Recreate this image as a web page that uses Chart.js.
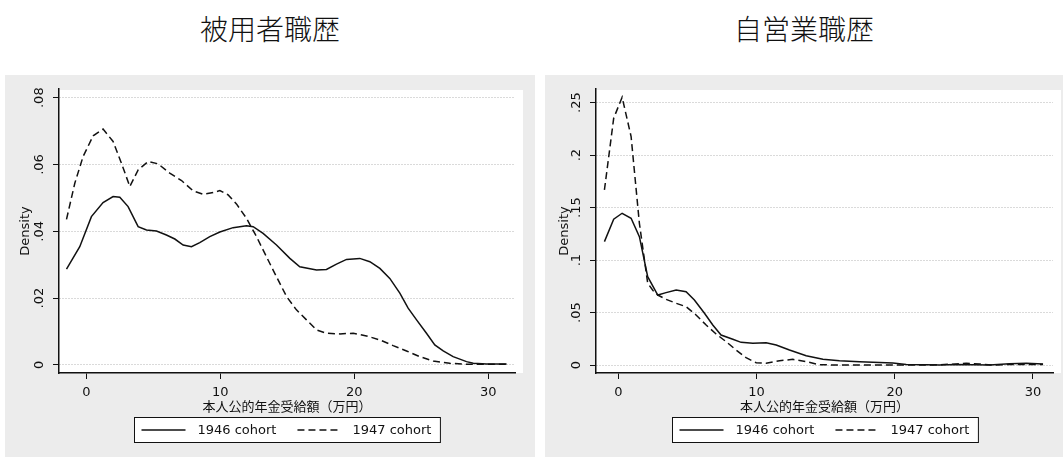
<!DOCTYPE html>
<html>
<head>
<meta charset="utf-8">
<script src="https://cdn.jsdelivr.net/npm/chart.js@4.4.1/dist/chart.umd.min.js"></script>
<style>
  body { margin: 0; width: 1063px; height: 457px; background: #fff; position: relative; overflow: hidden; }
  .title { position: absolute; top: 14px; line-height: 1; font-family: "Noto Sans CJK JP", sans-serif; font-size: 28px; font-weight: 300; text-align: center; color: #111; }
  .panel { position: absolute; top: 75px; height: 382px; }
</style>
</head>
<body>
<div class="title" style="left:5px;width:530px">被用者職歴</div>
<div class="title" style="left:545px;width:518px">自営業職歴</div>
<div class="panel" style="left:5px;width:530px"><canvas id="leftChart" width="530" height="382"></canvas></div>
<div class="panel" style="left:545px;width:518px"><canvas id="rightChart" width="518" height="382"></canvas></div>
<script>
// series labels and axis text
const seriesLabels = ['1946 cohort', '1947 cohort'];
const xTitle = '本人公的年金受給額（万円）';
const yTitle = 'Density';
const xTicks = [0, 10, 20, 30];

// 被用者職歴 (left panel)
const leftX46 = [-1.49, -0.50, 0.37, 1.24, 1.99, 2.49, 3.11, 3.86, 4.48, 5.23, 5.97, 6.60, 7.22, 7.84, 8.46, 9.21, 9.96, 10.95, 11.95, 12.45, 13.19, 14.19, 15.19, 15.93, 17.18, 17.92, 18.67, 19.42, 20.41, 21.16, 21.91, 22.65, 23.40, 24.02, 24.65, 25.39, 26.01, 26.64, 27.38, 28.38, 28.88, 29.87, 31.37];
const left46 = [.0287, .0354, .0444, .0486, .0504, .0502, .0474, .0414, .0404, .0401, .0389, .0377, .0359, .0354, .0366, .0384, .0398, .0411, .0417, .0414, .0394, .0359, .0319, .0294, .0284, .0286, .0302, .0316, .0319, .0309, .0289, .0259, .0215, .0170, .0135, .0095, .0060, .0042, .0025, .0010, .0005, .0003, .0003];
const leftX47 = [-1.49, -0.87, -0.25, 0.50, 1.24, 1.99, 2.61, 3.24, 3.86, 4.61, 5.35, 6.22, 7.10, 7.97, 8.71, 9.46, 9.96, 10.58, 11.20, 11.95, 12.70, 13.44, 14.19, 14.94, 15.68, 16.43, 17.18, 17.92, 18.92, 19.92, 20.91, 21.91, 22.90, 23.90, 24.89, 25.89, 27.13, 28.38, 31.37];
const left47 = [.0436, .0544, .0624, .0686, .0706, .0669, .0604, .0534, .0584, .0609, .0602, .0574, .0552, .0521, .0511, .0516, .0522, .0509, .0482, .0439, .0384, .0324, .0264, .0205, .0165, .0135, .0105, .0095, .0093, .0095, .0087, .0075, .0058, .0042, .0025, .0012, .0005, .0002, .0002];
const leftYTicks = [0, .02, .04, .06, .08];
const leftYLabels = ['0', '.02', '.04', '.06', '.08'];

// 自営業職歴 (right panel)
const rightX46 = [-1.01, -0.34, 0.27, 0.92, 1.52, 2.12, 2.85, 3.45, 4.18, 4.90, 5.50, 6.23, 6.83, 7.43, 8.28, 8.88, 9.73, 10.69, 11.42, 12.38, 13.59, 14.80, 16.00, 17.45, 18.90, 19.86, 20.83, 22.28, 23.24, 24.45, 25.66, 26.86, 28.31, 29.52, 30.73];
const right46 = [.1176, .1389, .1446, .1398, .1223, .0842, .0667, .0690, .0715, .0699, .0620, .0493, .0381, .0286, .0245, .0216, .0207, .0213, .0191, .0143, .0089, .0054, .0041, .0032, .0025, .0019, .0006, .0003, 0, .0006, .0003, 0, .0013, .0016, .0010];
const rightX47 = [-1.01, -0.34, 0.27, 0.92, 1.52, 2.12, 2.50, 2.85, 3.45, 4.18, 4.90, 5.62, 6.35, 7.07, 7.80, 8.52, 9.24, 9.97, 10.69, 11.66, 12.62, 13.59, 14.55, 16.0, 17.93, 20.35, 22.76, 24.45, 25.17, 26.14, 27.11, 28.55, 30.73];
const right47 = [.1668, .2351, .2552, .2177, .1350, .0780, .0710, .0667, .0626, .0588, .0556, .0477, .0381, .0296, .0222, .0143, .0070, .0022, .0016, .0041, .0054, .0032, .0003, 0, 0, 0, 0, .0010, .0016, .0010, 0, .0006, .0006];
const rightYTicks = [0, .05, .1, .15, .2, .25];
const rightYLabels = ['0', '.05', '.1', '.15', '.2', '.25'];

Chart.defaults.font.family = '"DejaVu Sans", "Noto Sans CJK JP", sans-serif';
Chart.defaults.font.size = 13;
Chart.defaults.color = '#111';

const panelPlugin = {
    id: 'panel',
    beforeDraw(chart) {
        const { ctx, chartArea: a } = chart;
        ctx.save();
        ctx.fillStyle = '#ececec';
        ctx.fillRect(0, 0, chart.width, chart.height);
        ctx.fillStyle = '#fff';
        ctx.fillRect(a.left, a.top + 1, a.right - a.left + 8, a.bottom - a.top - 1);
        ctx.restore();
    },
    afterDraw(chart, args, opts) {
        const { ctx, chartArea: a } = chart;
        const yScale = chart.scales.y;
        ctx.save();
        ctx.fillStyle = '#111';
        ctx.font = '13px "DejaVu Sans"';
        ctx.textAlign = 'center';
        ctx.textBaseline = 'middle';
        // y tick labels, rotated like Stata
        yScale.ticks.forEach((t, i) => {
            ctx.save();
            ctx.translate(a.left - 19, yScale.getPixelForValue(t.value));
            ctx.rotate(-Math.PI / 2);
            ctx.fillText(opts.labels[i], 0, 0);
            ctx.restore();
        });

        // legend with a frame
        const ds = chart.data.datasets;
        const w1 = ctx.measureText(ds[0].label).width;
        const w2 = ctx.measureText(ds[1].label).width;
        const boxW = 7 + 44 + 12 + w1 + 21 + 45 + 11 + w2 + 8;
        const boxH = 25;
        const left = Math.round((a.left + a.right) / 2 - boxW / 2) + 0.5;
        const top = a.bottom + 44.5;
        ctx.fillStyle = '#fff';
        ctx.fillRect(left, top, boxW, boxH);
        ctx.strokeStyle = '#111';
        ctx.lineWidth = 1;
        ctx.strokeRect(left, top, boxW, boxH);
        const midY = top + boxH / 2;
        let x = left + 7;
        ds.forEach((d, i) => {
            ctx.beginPath();
            ctx.setLineDash(d.borderDash || []);
            ctx.lineWidth = d.borderWidth;
            ctx.moveTo(x, midY);
            ctx.lineTo(x + 44, midY);
            ctx.stroke();
            ctx.setLineDash([]);
            x += 44 + (i === 0 ? 12 : 11);
            ctx.fillStyle = '#111';
            ctx.textAlign = 'left';
            ctx.fillText(d.label, x, midY + 1);
            x += (i === 0 ? w1 : w2) + 21;
        });
        ctx.restore();
    }
};

function makeChart(id, cfg) {
    const toPoints = (xs, ys) => xs.map((v, i) => ({ x: v, y: ys[i] }));
    return new Chart(document.getElementById(id).getContext('2d'), {
        type: 'line',
        data: {
            datasets: [{
                label: seriesLabels[0],
                data: toPoints(cfg.x46, cfg.y46),
                borderColor: '#111',
                borderWidth: 1.5,
                pointRadius: 0,
                tension: 0
            }, {
                label: seriesLabels[1],
                data: toPoints(cfg.x47, cfg.y47),
                borderColor: '#111',
                borderWidth: 1.5,
                borderDash: [7, 4],
                pointRadius: 0,
                tension: 0
            }]
        },
        options: {
            responsive: false,
            animation: false,
            layout: { padding: { left: 0, right: cfg.padRight, top: 14, bottom: 42 } },
            plugins: {
                legend: { display: false },
                tooltip: { enabled: false },
                panel: { labels: cfg.yLabels }
            },
            scales: {
                x: {
                    type: 'linear',
                    min: cfg.xMin,
                    max: cfg.xMax,
                    afterBuildTicks: s => { s.ticks = xTicks.map(v => ({ value: v })); },
                    afterFit: s => { s.height = 42; },
                    grid: { drawOnChartArea: false, tickLength: 6, tickColor: '#111', tickWidth: 1 },
                    border: { color: '#111', width: 1.5 },
                    ticks: { padding: 6, font: { size: 13 } },
                    title: { display: true, text: xTitle, padding: 0, font: { size: 13, lineHeight: 1.2 } }
                },
                y: {
                    type: 'linear',
                    min: cfg.yMin,
                    max: cfg.yMax,
                    afterBuildTicks: s => { s.ticks = cfg.yTicks.map(v => ({ value: v })); },
                    afterFit: s => { s.width = cfg.yWidth; },
                    grid: { color: '#b5b5b5', lineWidth: 1, tickLength: 6, tickColor: '#111', tickWidth: 1, tickBorderDash: [] },
                    border: { color: '#111', width: 1.5, dash: [1, 2] },
                    ticks: { display: false },
                    title: { display: true, text: yTitle, padding: { top: cfg.titlePad, bottom: 0 }, font: { size: 13, lineHeight: 1.2 } }
                }
            }
        },
        plugins: [panelPlugin]
    });
}

makeChart('leftChart', {
    x46: leftX46, y46: left46, x47: leftX47, y47: left47,
    xMin: -2.05, xMax: 32.0, yMin: -0.0024, yMax: 0.0826,
    yTicks: leftYTicks, yLabels: leftYLabels,
    padRight: 20, yWidth: 54, titlePad: 13
});

makeChart('rightChart', {
    x46: rightX46, y46: right46, x47: rightX47, y47: right47,
    xMin: -1.62, xMax: 31.45, yMin: -0.0076, yMax: 0.263,
    yTicks: rightYTicks, yLabels: rightYLabels,
    padRight: 10, yWidth: 51, titlePad: 12
});
</script>
</body>
</html>
